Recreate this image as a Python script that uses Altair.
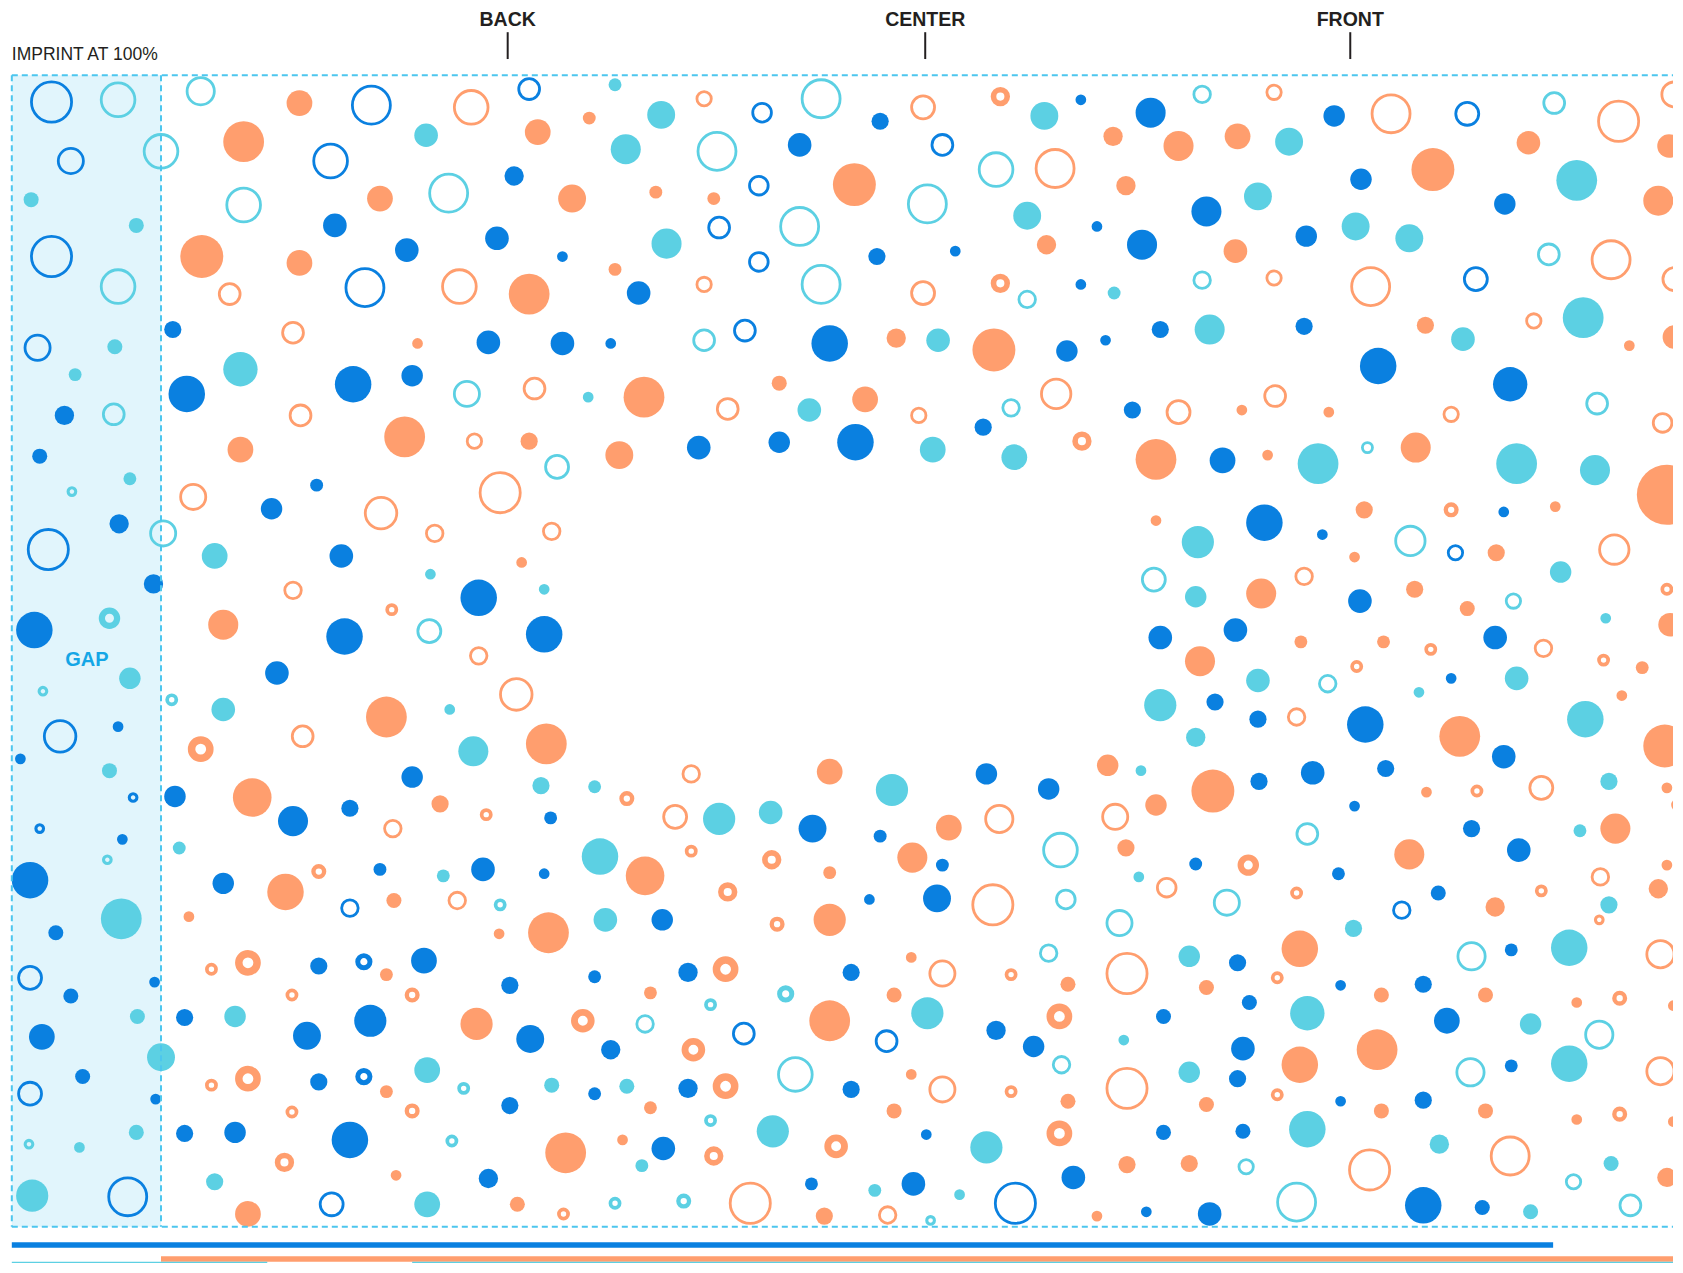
import altair as alt
import pandas as pd

# reference is read in a 1568-wide copy; K converts to page pixels
K = 1683 / 1568
W, H = 1665, 1255
X0 = 8 / K
Y0 = 8 / K
X1 = X0 + W / K
Y1 = Y0 + H / K

BLUE, ORANGE, CYAN = "#0A80E0", "#FF9E6E", "#5CD0E3"
DASH, GAPFILL, GAPTXT, INK = "#4CC6EE", "#E1F5FC", "#14A6E6", "#231F20"

# (x, y, radius) of each circle, in reference units
filled_blue = [(60,387,9),(37,425,7),(111,488,9),(143,544,9),(32,587,17),(110,677,5),(19,707,5),(163,742,10),(114,782,5),(28,820,17),(52,869,7),(144,915,5),(66,928,7),(39,966,12),(77,1003,7),(145,1024,5),
    (820,113,8),(1007,93,5),(1072,105,14),(1243,108,10),(479,164,9),(745,135,11),(1268,167,10),(1402,190,10),
    (312,210,11),(379,233,11),(463,222,11),(524,239,5),(595,273,11),(817,239,8),(890,234,5),(1022,211,5),(1007,265,5),(1064,228,14),(1124,197,14),(1217,220,10),
    (161,307,8),(455,319,11),(524,320,11),(569,320,5),(773,320,17),(994,327,10),(1030,317,5),(1081,307,8),(1215,304,8),
    (174,367,17),(329,358,17),(384,350,10),(1055,382,8),(1284,341,17),(1407,358,16),
    (651,417,11),(726,412,10),(797,412,17),(916,398,8),(1139,429,12),
    (253,474,10),(295,452,6),(318,518,11),(446,557,17),(321,593,17),(507,591,17),(258,627,11),
    (1178,487,17),(1232,498,5),(1401,477,5),(1267,560,11),(1081,594,11),(1151,587,11),(1393,594,11),(1352,632,5),(1132,654,8),(1172,670,8),(1272,675,17),(1401,705,11),(1291,716,8),(1223,720,11),(1173,728,8),
    (273,765,14),(326,753,8),(384,724,10),(513,762,6),(757,772,13),(919,721,10),(977,735,10),
    (208,823,10),(354,810,6),(450,810,11),(507,814,5),(617,857,10),(810,838,5),(820,779,6),(878,806,6),(873,837,13),(1114,805,6),(1247,814,6),(1262,751,5),(1340,832,7),(1371,772,8),(1415,792,11),
    (297,900,8),(395,895,12),(172,948,8),(286,965,13),(345,951,15),(475,918,8),(494,968,13),(554,910,6),(569,978,9),(641,906,9),(793,906,8),(928,960,9),(963,975,10),(1084,947,7),(1153,897,8),(1164,934,7),(1249,918,5),(1326,917,8),(1348,951,12),(1408,885,6),
    (297,1008,8),(475,1030,8),(554,1019,6),(641,1014,9),(793,1015,8),(1153,1005,8),(1158,977,11),(1249,1026,5),(1326,1025,8),(1408,993,6),
    (172,1056,8),(219,1055,10),(326,1062,17),(455,1098,9),(618,1070,11),(756,1103,6),(851,1103,11),(863,1057,5),(1000,1097,11),(1068,1129,5),(1084,1055,7),(1127,1131,11),(1158,1054,7),(1326,1123,17),(1381,1125,7)]

filled_orange = [(279,96,12),(549,110,6),(227,132,19),(501,123,12),
    (354,185,12),(533,185,13),(611,179,6),(665,185,6),(796,172,20),(1037,127,9),(1049,173,9),(1098,136,14),(1153,127,12),(1335,158,20),(1424,133,11),(1545,187,14),(1555,136,11),
    (188,239,20),(279,245,12),(493,274,19),(573,251,6),(975,228,9),(1151,234,11),
    (389,320,5),(835,315,9),(926,326,20),(1328,303,8),(1518,322,5),(1560,314,11),
    (600,370,19),(726,357,7),(806,372,12),(1157,382,5),(1238,384,5),
    (377,407,19),(224,419,12),(493,411,8),(577,424,13),(1077,428,19),(1181,424,5),(1319,417,14),(1553,461,28),
    (486,524,5),(208,582,14),(360,668,19),(509,693,19),
    (1077,485,5),(1271,475,8),(1449,472,5),(1262,519,5),(1394,515,8),(1175,553,14),(1318,549,8),(1367,567,7),(1556,582,11),(1212,598,6),(1289,598,6),(1118,616,14),(1530,622,6),(1511,648,5),(1360,686,19),(1551,695,20),(1130,737,20),(1329,738,5),(1553,734,5),
    (235,743,18),(410,749,8),(773,719,12),(884,771,12),(1032,713,10),(1077,750,10),
    (266,831,17),(367,839,7),(465,870,5),(511,869,19),(601,816,18),(773,813,6),(773,857,15),(850,799,14),(1049,790,8),(1313,796,14),(1393,845,9),(1505,772,14),(1545,828,9),(1553,806,5),(176,854,5),
    (360,908,6),(444,954,15),(606,925,6),(773,951,19),(833,927,7),(849,892,5),(995,917,7),(1124,920,7),(1211,884,17),(1287,927,7),(1384,927,7),(1469,934,5),(1559,937,5),
    (360,1017,6),(606,1032,6),(849,1001,5),(833,1035,7),(995,1026,7),(1124,1029,7),(1211,992,17),(1283,978,19),(1287,1035,7),(1384,1035,7),(1469,1043,5),(1559,1045,5),
    (369,1095,5),(482,1122,7),(527,1074,19),(580,1062,5),(768,1133,8),(1022,1133,5),(1050,1085,8),(1108,1084,8),(231,1131,12),(1553,1097,9)]

filled_cyan = [(29,186,7),(127,210,7),(107,323,7),(70,349,6),(121,446,6),(121,632,10),(102,718,7),(113,856,19),(167,790,6),(128,947,7),(150,985,13),(74,1069,5),(127,1055,7),(30,1114,15),
    (573,79,6),(397,126,11),(616,107,13),(973,108,13),
    (583,139,14),(1201,132,13),(1469,168,19),
    (621,227,14),(957,201,13),(1038,273,6),(1172,183,13),(1263,211,13),(1313,222,13),
    (874,317,11),(1127,307,14),(1363,316,11),(1475,296,19),
    (224,344,16),(548,370,5),(754,382,11),
    (869,419,12),(945,426,12),(1228,432,19),(1413,432,19),(1486,438,14),
    (200,518,12),(401,535,5),(507,549,5),(208,661,11),(419,661,5),(441,700,14),
    (1116,505,15),(1454,533,10),(1114,556,10),(1496,576,5),(1172,634,11),(1413,632,11),(1322,645,5),(1081,657,15),(1477,670,17),(1114,687,9),(1499,728,8),
    (504,732,8),(554,733,6),(670,763,15),(718,757,11),(831,736,15),(1063,718,5),
    (413,816,6),(559,798,17),(564,857,11),(1061,817,5),(1472,774,6),(1499,843,8),(1261,865,8),
    (219,947,10),(864,944,15),(1047,969,5),(1108,891,10),(1218,944,16),(1426,954,10),(1462,883,17),
    (398,997,12),(514,1011,7),(584,1012,7),(1108,999,10),(1462,991,17),
    (398,1122,12),(598,1086,6),(720,1054,15),(815,1109,6),(894,1113,5),(919,1069,15),(1218,1052,17),(1341,1066,9),(1426,1129,7),(1501,1084,7),(200,1101,8)]

ring_blue = [(48,95,20),(66,150,13),(48,239,20),(35,324,13),(45,512,20),(56,686,16),(28,911,12),(28,1019,12),(119,1115,19),
    (346,98,19),(493,83,11),(710,105,10),(1367,106,12),(308,150,17),(707,173,10),(878,135,11),(340,268,19),(670,212,11),(707,244,10),(1375,260,12),(694,308,11),(1356,515,8),(326,846,9),(1306,848,9),(693,963,11),(826,970,11),(309,1122,12),(946,1121,20)]

ring_orange = [(439,100,17),(656,92,8),(860,100,12),(1187,86,8),(1296,106,19),(1508,113,20),(1560,88,13),(983,157,19),(214,274,11),(428,267,17),(656,265,8),(860,273,12),(1187,259,8),(1277,267,19),(1501,242,19),(1560,260,12),(273,310,11),(1429,299,8),(498,362,11),(678,381,11),(856,387,8),(984,367,15),(1098,384,12),(1188,369,11),(1352,386,8),(1549,394,10),(280,387,11),(442,411,8),(180,463,13),(355,478,16),(466,459,20),(405,497,9),(514,495,9),(273,550,9),(446,611,9),(481,647,16),(282,686,11),(1504,512,15),(1215,537,9),(1438,604,9),(1208,668,9),(1436,734,12),(644,721,9),(629,761,12),(931,763,14),(1039,761,13),(366,772,9),(426,839,9),(925,843,20),(1087,827,10),(1491,817,9),(878,907,13),(1050,907,20),(1547,889,14),(878,1015,13),(1050,1014,20),(1547,998,14),(699,1121,20),(827,1132,9),(1276,1090,20),(1407,1077,19)]

ring_cyan = [(110,93,17),(150,141,17),(110,267,17),(106,386,11),(152,497,13),(187,85,14),(765,92,19),(1120,88,9),(1448,96,11),(227,191,17),(418,180,19),(668,141,19),(864,190,19),(928,158,17),(745,211,19),(765,265,19),(957,279,9),(1120,261,9),(1443,237,11),(656,317,11),(435,367,13),(942,380,9),(1488,376,11),(519,435,12),(1274,417,6),(400,588,12),(1314,504,15),(1075,540,12),(1410,560,8),(1237,637,9),(988,792,17),(993,838,10),(1043,860,13),(1143,841,13),(1218,777,11),(601,954,9),(977,888,9),(1371,891,14),(1490,964,14),(741,1001,17),(989,992,9),(1370,999,14),(1161,1087,8),(1208,1120,19),(1466,1101,8),(1519,1123,11)]

donut_blue = [(124,743,5),(37,772,5),(339,896,8),(339,1003,8)]

donut_orange = [(932,90,9),(932,264,9),(1008,411,9),(365,568,6),(187,698,12),(1352,475,7),(1553,549,6),(1333,605,6),(1494,615,6),(1264,621,6),(1376,737,6),(1563,750,6),(453,759,6),(584,744,7),(297,812,7),(644,793,6),(678,831,9),(719,801,9),(724,861,7),(1163,806,10),(1208,832,6),(1436,830,6),(1490,857,5),(197,903,6),(231,897,12),(272,927,6),(384,927,7),(543,951,11),(676,903,12),(646,978,11),(942,908,6),(987,947,12),(1190,911,6),(1509,930,7),(197,1011,6),(231,1005,12),(272,1036,6),(384,1035,7),(676,1012,12),(942,1017,6),(1190,1020,6),(1509,1038,7),(265,1083,9),(525,1131,6),(665,1077,9),(779,1068,11),(987,1056,12)]

donut_cyan = [(67,458,5),(102,576,10),(40,644,5),(160,652,6),(100,801,5),(27,1066,5),(466,843,6),(662,936,6),(732,926,8),(432,1014,6),(662,1044,6),(421,1063,6),(573,1121,6),(637,1119,7),(867,1137,5)]

label_text = ["BACK", "CENTER", "FRONT"]
label_x = [473, 862, 1258]

def table(groups, kind):
    recs = []
    for lst, col in groups:
        for x, y, r in lst:
            if kind == "F":
                sw = 0.0
            elif kind == "R":
                sw = 2.8 / K
            else:
                sw = 0.58 * r
            d = 2 * r - sw
            recs.append({"x": x, "y": y, "col": col, "area": d * d, "sw": sw})
    return pd.DataFrame(recs)

df_f = table([(filled_blue, "B"), (filled_orange, "O"), (filled_cyan, "C")], "F")
df_r = table([(ring_blue, "B"), (ring_orange, "O"), (ring_cyan, "C")], "R")
df_d = table([(donut_blue, "B"), (donut_orange, "O"), (donut_cyan, "C")], "D")

xs = alt.Scale(domain=[X0, X1], nice=False, zero=False)
ys = alt.Scale(domain=[Y0, Y1], nice=False, zero=False, reverse=True)
X = alt.X("x:Q", scale=xs, axis=None)
Y = alt.Y("y:Q", scale=ys, axis=None)
SIZE = alt.Size("area:Q", scale=alt.Scale(type="linear", domain=[0, 4000], range=[0, 4000 * K * K]), legend=None)
COLOR = alt.Color("col:N", scale=alt.Scale(domain=["B", "O", "C"], range=[BLUE, ORANGE, CYAN]), legend=None)
SW = alt.StrokeWidth("sw:Q", scale=alt.Scale(domain=[0, 20], range=[0, 20 * K]), legend=None)

gap_df = pd.DataFrame({"x": [11], "x2": [150], "y": [70], "y2": [1143]})
gap = alt.Chart(gap_df).mark_rect(color=GAPFILL).encode(x=X, x2="x2", y=Y, y2="y2")

fills = alt.Chart(df_f).mark_circle(opacity=1, clip=True).encode(x=X, y=Y, size=SIZE, color=COLOR)
rings = alt.Chart(df_r).mark_point(filled=False, opacity=1, shape="circle", strokeWidth=2.8, clip=True).encode(x=X, y=Y, size=SIZE, color=COLOR)
donuts = alt.Chart(df_d).mark_point(filled=False, opacity=1, shape="circle", clip=True).encode(x=X, y=Y, size=SIZE, color=COLOR, strokeWidth=SW)

dash_df = pd.DataFrame({
    "x": [11, 11, 11, 150],
    "x2": [1700, 1700, 11, 150],
    "y": [70, 1143, 70, 70],
    "y2": [70, 1143, 1143, 1143],
})
dashed = alt.Chart(dash_df).mark_rule(strokeDash=[6, 4], color=DASH, strokeWidth=2, clip=True).encode(
    x=X, x2="x2", y=Y, y2="y2")

bars_df = pd.DataFrame({
    "x": [11, 150, 11, 384],
    "x2": [1447, 1700, 249, 1700],
    "y": [1160, 1173, 1178, 1178],
    "col": ["B", "O", "C", "C"],
})
bars = alt.Chart(bars_df).mark_rule(strokeWidth=5.5, strokeCap="butt", clip=True).encode(
    x=X, x2="x2", y=Y, y2="y", color=COLOR)

lab_df = pd.DataFrame({"t": label_text, "x": label_x, "y": [24] * 3, "y1": [30] * 3, "y2": [55] * 3})
labels = alt.Chart(lab_df).mark_text(fontSize=19.5, fontWeight="bold", font="Liberation Sans", color=INK, baseline="alphabetic", align="center").encode(
    x=X, y=Y, text="t:N")
ticks = alt.Chart(lab_df).mark_rule(color=INK, strokeWidth=2).encode(
    x=X, y=alt.Y("y1:Q", scale=ys, axis=None), y2="y2")

imp = alt.Chart(pd.DataFrame({"t": ["IMPRINT AT 100%"], "x": [11], "y": [56]})).mark_text(
    fontSize=17.5, font="Liberation Sans", color=INK, align="left", baseline="alphabetic").encode(x=X, y=Y, text="t:N")
gaptxt = alt.Chart(pd.DataFrame({"t": ["GAP"], "x": [81], "y": [615]})).mark_text(
    fontSize=20, fontWeight="bold", font="Liberation Sans", color=GAPTXT, align="center", baseline="middle").encode(x=X, y=Y, text="t:N")

chart = alt.layer(gap, fills, rings, donuts, dashed, bars, ticks, labels, imp, gaptxt).properties(
    width=W, height=H, padding=0, autosize="none"
).configure_view(strokeWidth=0)

chart.save("out.html", embed_options={"renderer": "svg", "actions": False})
